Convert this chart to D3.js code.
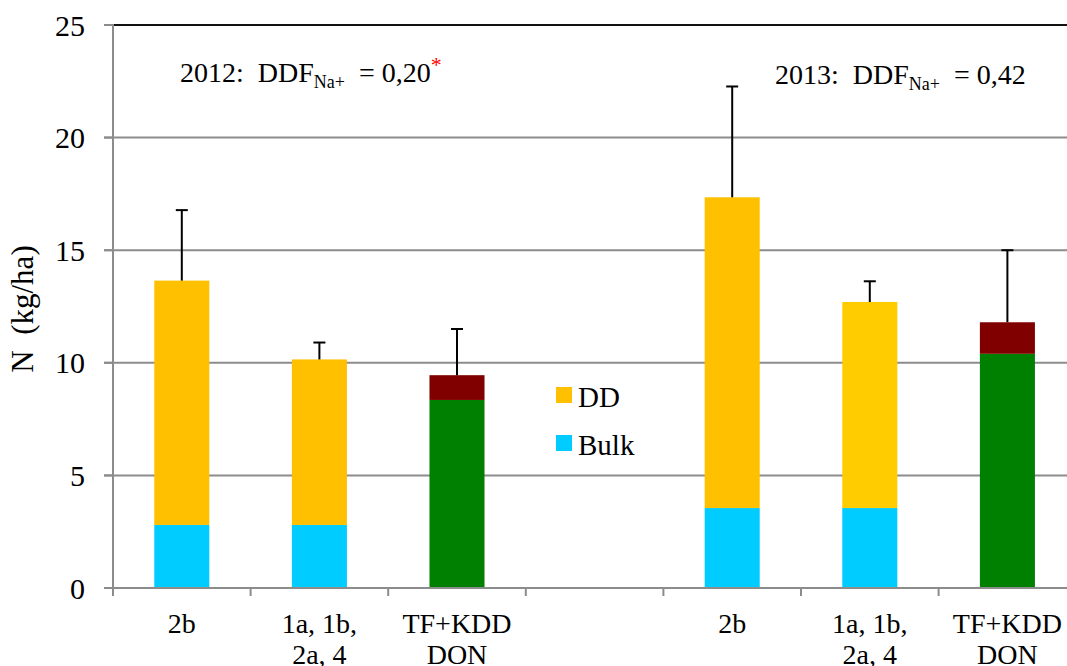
<!DOCTYPE html>
<html><head><meta charset="utf-8">
<script src="https://cdn.jsdelivr.net/npm/d3@7"></script>
<style>
html,body{margin:0;padding:0;background:#fff;}
</style></head>
<body><svg id="c" width="1067" height="666" font-family="'Liberation Serif', 'Times New Roman', Tinos, 'DejaVu Serif', serif"></svg>
<script>
const categories = ["2012-2b","2012-1a","2012-TF","gap","2013-2b","2013-1a","2013-TF"];
const catLabels = [["2b"],["1a, 1b,","2a, 4"],["TF+KDD","DON"],[""],["2b"],["1a, 1b,","2a, 4"],["TF+KDD","DON"]];
const bulk  = [2.8, 2.8, 0, null, 3.55, 3.55, 0];
const dd    = [10.85, 7.35, 0, null, 13.8, 9.15, 0];
const tfGreen = [0, 0, 8.35, null, 0, 0, 10.4];
const don   = [0, 0, 1.1, null, 0, 0, 1.4];
const errTop = [16.78, 10.9, 11.5, null, 22.27, 13.62, 15.0];
const yTicks = [0,5,10,15,20,25];
const ddColors = ["#FFC000","#FFC000","#FFC000","#FFC000","#FFC000","#FFCC00","#FFC000"];

const svg = d3.select("#c");
const mLeft = 113, mTop = 25, mBottom = 588, bandW = 137.6;
const x = d3.scaleBand().domain(categories).range([mLeft, mLeft + bandW*categories.length]).paddingInner(0).paddingOuter(0);
const y = d3.scaleLinear().domain([0,25]).range([mBottom, mTop]);
const bw = x.bandwidth()*0.4;

// gridlines
svg.append("g").selectAll("line").data(yTicks.filter(d=>d>0 && d<25)).join("line")
  .attr("x1", mLeft-9).attr("x2", 1067).attr("y1", d=>y(d)).attr("y2", d=>y(d))
  .attr("stroke","#8c8c8c").attr("stroke-width",2);
// top border
svg.append("line").attr("x1",mLeft-9).attr("x2",mLeft).attr("y1",y(25)).attr("y2",y(25)).attr("stroke","#8c8c8c").attr("stroke-width",2);
svg.append("line").attr("x1",mLeft).attr("x2",1067).attr("y1",y(25)).attr("y2",y(25)).attr("stroke","#111").attr("stroke-width",2);

// bars
const g = svg.append("g");
categories.forEach((c,i)=>{
  if (bulk[i]===null) return;
  const bx = x(c) + (x.bandwidth()-bw)/2;
  const segs = [];
  let base = 0;
  if (tfGreen[i]>0){ segs.push([base, base+tfGreen[i], "#008000"]); base += tfGreen[i]; segs.push([base, base+don[i], "#800000"]); base += don[i]; }
  else { segs.push([base, base+bulk[i], "#00CCFF"]); base += bulk[i]; segs.push([base, base+dd[i], ddColors[i]]); base += dd[i]; }
  segs.forEach(s=>{
    g.append("rect").attr("x",bx).attr("width",bw).attr("y",y(s[1])).attr("height",y(s[0])-y(s[1])).attr("fill",s[2]);
  });
  const cx = x(c)+x.bandwidth()/2;
  g.append("line").attr("x1",cx).attr("x2",cx).attr("y1",y(base)).attr("y2",y(errTop[i])).attr("stroke","#000").attr("stroke-width",2);
  g.append("line").attr("x1",cx-6).attr("x2",cx+6).attr("y1",y(errTop[i])).attr("y2",y(errTop[i])).attr("stroke","#000").attr("stroke-width",2);
});

// axes
svg.append("line").attr("x1",mLeft).attr("x2",mLeft).attr("y1",y(25)-1).attr("y2",mBottom+8).attr("stroke","#8c8c8c").attr("stroke-width",2);
svg.append("line").attr("x1",mLeft-9).attr("x2",1067).attr("y1",mBottom).attr("y2",mBottom).attr("stroke","#8c8c8c").attr("stroke-width",2);
svg.append("g").selectAll("line").data(yTicks).join("line")
  .attr("x1",mLeft-9).attr("x2",mLeft).attr("y1",d=>y(d)).attr("y2",d=>y(d)).attr("stroke","#8c8c8c").attr("stroke-width",2);
svg.append("g").selectAll("text").data(yTicks).join("text")
  .attr("x",85).attr("y",d=>y(d)+10.5).attr("text-anchor","end").attr("font-size",30).text(d=>d);

// x ticks
const tickPos = d3.range(categories.length+1).map(i=>mLeft+i*bandW);
svg.append("g").selectAll("line").data(tickPos).join("line")
  .attr("x1",d=>d).attr("x2",d=>d).attr("y1",mBottom).attr("y2",mBottom+8).attr("stroke","#8c8c8c").attr("stroke-width",2);
categories.forEach((c,i)=>{
  const cx = x(c)+x.bandwidth()/2;
  catLabels[i].forEach((l,j)=>{
    svg.append("text").attr("x",cx).attr("y",633+j*31).attr("text-anchor","middle").attr("font-size",28).text(l);
  });
});

// y title
svg.append("text").attr("transform","translate(33,309) rotate(-90)").attr("text-anchor","middle")
  .attr("font-size",31).attr("xml:space","preserve").text("N  (kg/ha)");

// legend
const legend = [["DD","#FFC000",387],["Bulk","#00CCFF",435]];
legend.forEach(l=>{
  svg.append("rect").attr("x",556).attr("y",l[2]).attr("width",16).attr("height",16).attr("fill",l[1]);
  svg.append("text").attr("x",578).attr("y",l[2]+20).attr("font-size",29).text(l[0]);
});

// annotations
function annot(xp, yp, year, val, star){
  const t = svg.append("text").attr("x",xp).attr("y",yp).attr("font-size",28).attr("xml:space","preserve");
  t.append("tspan").text(year+":  DDF");
  t.append("tspan").attr("font-size",18).attr("dy",6).text("Na+");
  t.append("tspan").attr("dy",-6).text("  = "+val);
  if(star) t.append("tspan").attr("fill","#FF0000").attr("font-size",22).attr("dy",-10).text("*");
}
annot(180, 82, "2012", "0,20", true);
annot(775, 84, "2013", "0,42", false);
</script></body></html>
